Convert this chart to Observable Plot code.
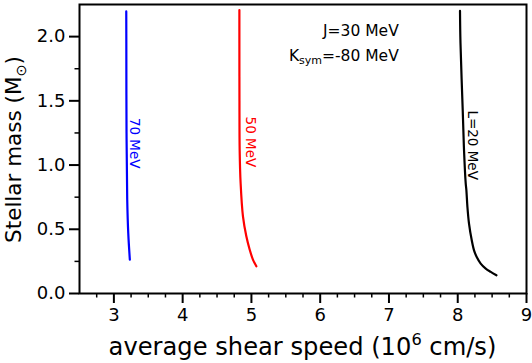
<!DOCTYPE html>
<html>
<head>
<meta charset="utf-8">
<script src="https://cdn.jsdelivr.net/npm/d3@7"></script>
<script src="https://cdn.jsdelivr.net/npm/@observablehq/plot@0.6"></script>
<style>
  body { margin: 0; background: #fff; }
  svg { font-family: "DejaVu Sans", sans-serif; }
</style>
</head>
<body>
<div id="chart"></div>
<script>
// ---- data ----
// L = 70 MeV (blue)
const massL70  = [2.196, 1.95, 1.25, 0.73, 0.47, 0.264];
const speedL70 = [3.180, 3.181, 3.184, 3.194, 3.209, 3.232];
// L = 50 MeV (red)
const massL50  = [2.207, 1.95, 1.50, 1.116, 0.858, 0.60, 0.445, 0.341, 0.264, 0.212];
const speedL50 = [4.825, 4.825, 4.826, 4.829, 4.843, 4.877, 4.926, 4.975, 5.022, 5.072];
// L = 20 MeV (black)
const massL20  = [2.20, 1.95, 1.42, 1.11, 0.857, 0.803, 0.673, 0.544, 0.414, 0.336, 0.284, 0.233, 0.194, 0.168, 0.142];
const speedL20 = [8.033, 8.040, 8.073, 8.092, 8.116, 8.126, 8.141, 8.164, 8.204, 8.237, 8.276, 8.334, 8.407, 8.480, 8.563];

const seriesNames  = ["70 MeV", "50 MeV", "L=20 MeV"];
const seriesColors = ["#0000ff", "#ff0000", "#000000"];
// label anchors (speed, mass) for the rotated curve labels
const labelSpeed = [3.30, 4.99, 8.21];
const labelMass  = [1.17, 1.18, 1.155];

const xTicks = [3, 4, 5, 6, 7, 8, 9];
const xMinorTicks = [2.75, 3.25, 3.5, 3.75, 4.25, 4.5, 4.75, 5.25, 5.5, 5.75, 6.25, 6.5, 6.75, 7.25, 7.5, 7.75, 8.25, 8.5, 8.75];
const yTicks = [0, 0.5, 1.0, 1.5, 2.0];
const yMinorTicks = [0.25, 0.75, 1.25, 1.75];

const annotJ = "J=30 MeV";
const annotK = ["K", "sym", "=-80 MeV"];
const annotSpeed = 7.15;
const annotMass = [2.0, 1.81];

// ---- build table ----
const rows = [];
[[massL70, speedL70], [massL50, speedL50], [massL20, speedL20]].forEach(([m, s], i) => {
  m.forEach((v, j) => rows.push({series: seriesNames[i], mass: v, speed: s[j]}));
});
const labels = seriesNames.map((n, i) => ({series: n, speed: labelSpeed[i], mass: labelMass[i]}));

const W = 532, H = 363;
const chart = Plot.plot({
  width: W, height: H,
  marginLeft: 79, marginRight: 6, marginTop: 4, marginBottom: 70,
  x: {domain: [2.5, 9], label: null},
  y: {domain: [0, 2.25], label: null},
  color: {domain: seriesNames, range: seriesColors},
  style: {fontFamily: "DejaVu Sans, sans-serif", background: "white", color: "black", overflow: "visible"},
  marks: [
    Plot.axisX({ticks: xMinorTicks, tickSize: 4.5, strokeWidth: 1.5, tickFormat: () => "", label: null}),
    Plot.axisX({ticks: xTicks, tickSize: 10, tickPadding: 5, strokeWidth: 2, fontSize: 18, tickFormat: d3.format("d"), label: null}),
    Plot.axisY({ticks: yMinorTicks, tickSize: 4.5, strokeWidth: 1.5, tickFormat: () => "", label: null}),
    Plot.axisY({ticks: yTicks, tickSize: 10, tickPadding: 4, strokeWidth: 2, fontSize: 18, tickFormat: d3.format(".1f"), label: null}),
    Plot.line(rows, {x: "speed", y: "mass", z: "series", stroke: "series", strokeWidth: 2.2, curve: "catmull-rom"}),
    Plot.text(labels, {x: "speed", y: "mass", text: "series", fill: "series", rotate: 90, fontSize: 13.5}),
    Plot.frame({strokeWidth: 2, stroke: "black"})
  ]
});
document.getElementById("chart").appendChild(chart);

const svg = d3.select(chart);
const sx = chart.scale("x"), sy = chart.scale("y");
const cx = (sx.range[0] + sx.range[1]) / 2;
const cy = (sy.range[0] + sy.range[1]) / 2;

// scale a label's font so that its length matches the reference
function fitLength(sel, target) {
  const len = sel.node().getComputedTextLength();
  if (len > 0) sel.attr("font-size", (+sel.attr("font-size")) * target / len);
}

// x axis label
const xl = svg.append("text")
  .attr("x", cx).attr("y", 355)
  .attr("text-anchor", "middle").attr("font-size", 24).attr("fill", "black");
xl.append("tspan").text("average shear speed (10");
xl.append("tspan").attr("font-size", "0.67em").attr("dy", "-0.6em").text("6");
xl.append("tspan").attr("dy", "0.4em").text(" cm/s)");
fitLength(xl, 388);

// y axis label
const yl = svg.append("text")
  .attr("transform", `translate(21,${cy + 1}) rotate(-90)`)
  .attr("text-anchor", "middle").attr("font-size", 21.5).attr("fill", "black");
yl.append("tspan").text("Stellar mass (M");
yl.append("tspan").attr("font-size", "0.67em").attr("dy", "0.35em").text("⊙");
yl.append("tspan").attr("dy", "-0.23em").text(")");

// annotations
svg.append("text")
  .attr("x", sx.apply(annotSpeed)).attr("y", sy.apply(annotMass[0]))
  .attr("text-anchor", "end").attr("font-size", 15.5).attr("fill", "black")
  .text(annotJ);
const kt = svg.append("text")
  .attr("x", sx.apply(annotSpeed)).attr("y", sy.apply(annotMass[1]))
  .attr("text-anchor", "end").attr("font-size", 15.5).attr("fill", "black");
kt.append("tspan").text(annotK[0]);
kt.append("tspan").attr("font-size", 11).attr("dy", 3).text(annotK[1]);
kt.append("tspan").attr("dy", -3).text(annotK[2]);
</script>
</body>
</html>
